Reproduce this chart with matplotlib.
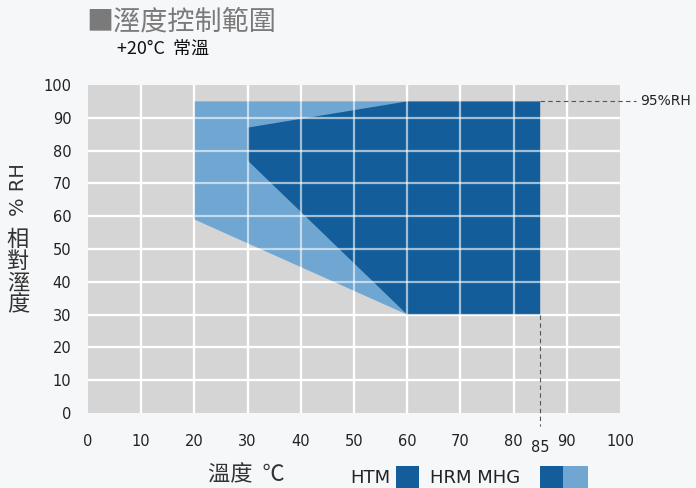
import matplotlib
matplotlib.use("Agg")
import matplotlib.pyplot as plt
from matplotlib.patches import Polygon, Rectangle

plt.rcParams['font.family'] = ['Noto Sans CJK TC', 'DejaVu Sans']

# data (temperature °C, humidity %RH)
mhg_temp = [20, 60, 60, 20]
mhg_rh = [95, 95, 30, 59]
htm_temp = [30, 60, 85, 85, 60, 30]
htm_rh = [87, 95, 95, 30, 30, 77]
ticks = [0, 10, 20, 30, 40, 50, 60, 70, 80, 90, 100]
max_temp = 85
max_rh = 95

DARK = "#135e9a"
LIGHT = "#6fa6d2"

fig = plt.figure(figsize=(6.96, 4.88), dpi=100)
fig.patch.set_facecolor("#f6f7f9")
ax = fig.add_axes([88 / 696, 1 - 413 / 488, 532 / 696, 328 / 488])
ax.set_facecolor("#d5d5d5")
ax.set_xlim(0, 100); ax.set_ylim(0, 100)
ax.set_xticks(ticks); ax.set_yticks(ticks)
for s in ax.spines.values():
    s.set_visible(False)
ax.tick_params(length=0, labelsize=10.5, labelcolor="#222222")
ax.tick_params(axis="x", pad=15)
ax.tick_params(axis="y", pad=12)
for lab in ax.get_xticklabels() + ax.get_yticklabels():
    lab.set_family("DejaVu Sans")
for t in ticks[1:-1]:
    ax.axvline(t, color="white", lw=1.6, zorder=1)
    ax.axhline(t, color="white", lw=1.6, zorder=1)

ax.add_patch(Polygon(list(zip(mhg_temp, mhg_rh)), closed=True, fc=LIGHT, ec="none", zorder=2))
ax.add_patch(Polygon(list(zip(htm_temp, htm_rh)), closed=True, fc=DARK, ec="none", zorder=3))
# grid shows through the fills
for t in ticks[1:-1]:
    ax.axvline(t, color="white", lw=1.6, alpha=0.6, zorder=4)
    ax.axhline(t, color="white", lw=1.6, alpha=0.6, zorder=4)

ax.plot([max_temp, 103], [max_rh, max_rh], color="#555555", lw=0.8, ls=(0, (4, 3)), clip_on=False, zorder=5)
ax.plot([max_temp, max_temp], [30, -4], color="#555555", lw=0.8, ls=(0, (4, 3)), clip_on=False, zorder=5)
ax.text(103.8, max_rh, "95%RH", fontsize=10, va="center", ha="left", color="#222222", family="DejaVu Sans")
ax.text(max_temp, -10.5, "85", fontsize=10.5, va="center", ha="center", color="#222222", family="DejaVu Sans")

fig.text(86 / 696, 1 - 22 / 488, "■溼度控制範圍", fontsize=19.5, color="#7a7a7a", va="center", ha="left")
fig.text(117 / 696, 1 - 50 / 488, "+20°C  常溫", fontsize=13, color="#111111", va="center", ha="left")

fig.text(18 / 696, 1 - 190 / 488, "% RH", rotation=90, fontsize=14, color="#333333", va="center", ha="center",
         family="DejaVu Sans")
fig.text(18 / 696, 1 - 272 / 488, "相\n對\n溼\n度", fontsize=16, color="#333333", va="center", ha="center", linespacing=0.92)

fig.text(208 / 696, 1 - 475 / 488, "溫度  ℃", fontsize=16, color="#333333", va="center", ha="left")
fig.text(350 / 696, 1 - 478 / 488, "HTM", fontsize=13, color="#222222", va="center", ha="left", family="DejaVu Sans")
fig.text(430 / 696, 1 - 478 / 488, "HRM MHG", fontsize=13, color="#222222", va="center", ha="left", family="DejaVu Sans")
fig.patches.append(Rectangle((396 / 696, 0), 23 / 696, 22 / 488, transform=fig.transFigure, fc=DARK, ec="none"))
fig.patches.append(Rectangle((540 / 696, 0), 23 / 696, 22 / 488, transform=fig.transFigure, fc=DARK, ec="none"))
fig.patches.append(Rectangle((563 / 696, 0), 25 / 696, 22 / 488, transform=fig.transFigure, fc=LIGHT, ec="none"))

fig.savefig("out.png", dpi=100, facecolor=fig.get_facecolor())
